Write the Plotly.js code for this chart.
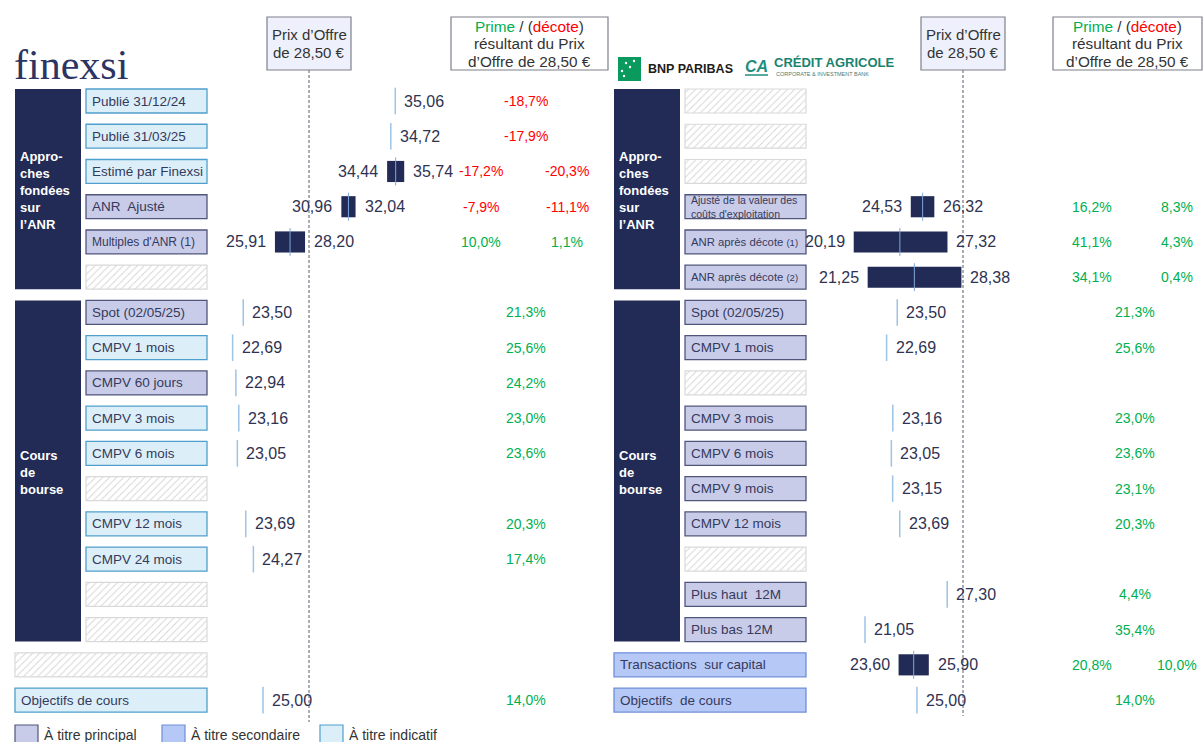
<!DOCTYPE html>
<html><head><meta charset="utf-8">
<script src="https://cdn.plot.ly/plotly-3.0.1.min.js"></script>
<style>html,body{margin:0;padding:0;background:#fff;}#chart{width:1203px;height:742px;}</style>
</head><body><div id="chart"></div>
<script>
// ---------------- DATA ----------------
const OFFER = 28.50;

const leftCategories = ["Publié 31/12/24","Publié 31/03/25","Estimé par Finexsi","ANR  Ajusté","Multiples d'ANR (1)","","Spot (02/05/25)","CMPV 1 mois","CMPV 60 jours","CMPV 3 mois","CMPV 6 mois","","CMPV 12 mois","CMPV 24 mois","","","","Objectifs de cours"];
const leftKinds = ["ind","ind","ind","pri","pri","hatch","pri","ind","pri","ind","ind","hatch","ind","ind","hatch","hatch","hatchWide","indWide"];

const rightCategories = ["","","","Ajusté de la valeur des<br>coûts d'exploitation","ANR après décote <span style='font-size:9.5px'>(1)</span>","ANR après décote <span style='font-size:9.5px'>(2)</span>","Spot (02/05/25)","CMPV 1 mois","","CMPV 3 mois","CMPV 6 mois","CMPV 9 mois","CMPV 12 mois","","Plus haut  12M","Plus bas 12M","Transactions  sur capital","Objectifs  de cours"];
const rightKinds = ["hatch","hatch","hatch","pri","pri","pri","pri","pri","hatch","pri","pri","pri","pri","hatch","pri","pri","secWide","secWide"];

const groupLabels = ["Appro-<br>ches<br>fondées<br>sur<br>l’ANR","Cours<br>de<br>bourse"];
const groupFirstRow = [0, 6];
const groupLastRow = [5, 15];

const leftSingleRows    = [0, 1, 6, 7, 8, 9, 10, 12, 13, 17];
const leftSingleValues  = [35.06, 34.72, 23.50, 22.69, 22.94, 23.16, 23.05, 23.69, 24.27, 25.00];
const leftSinglePremium = [-18.7, -17.9, 21.3, 25.6, 24.2, 23.0, 23.6, 20.3, 17.4, 14.0];
const leftRangeRows     = [2, 3, 4];
const leftRangeLow      = [34.44, 30.96, 25.91];
const leftRangeMid      = [35.09, 31.50, 27.06];
const leftRangeHigh     = [35.74, 32.04, 28.20];
const leftRangePremLow  = [-17.2, -7.9, 10.0];
const leftRangePremHigh = [-20.3, -11.1, 1.1];

const rightSingleRows    = [6, 7, 9, 10, 11, 12, 14, 15, 17];
const rightSingleValues  = [23.50, 22.69, 23.16, 23.05, 23.15, 23.69, 27.30, 21.05, 25.00];
const rightSinglePremium = [21.3, 25.6, 23.0, 23.6, 23.1, 20.3, 4.4, 35.4, 14.0];
const rightRangeRows     = [3, 4, 5, 16];
const rightRangeLow      = [24.53, 20.19, 21.25, 23.60];
const rightRangeMid      = [25.43, 23.70, 24.80, 24.75];
const rightRangeHigh     = [26.32, 27.32, 28.38, 25.90];
const rightRangePremLow  = [16.2, 41.1, 34.1, 20.8];
const rightRangePremHigh = [8.3, 4.3, 0.4, 10.0];

const legendLabels = ["À titre principal","À titre secondaire","À titre indicatif"];
const legendKinds = ["pri","sec","ind"];

const prixHeaderLines = ["Prix d’Offre","de 28,50 €"];
const primeHeaderLines = ["<span style='color:#00B050'>Prime</span> / (<span style='color:#FF0000'>décote</span>)","résultant du Prix","d’Offre de 28,50 €"];

// ---------------- LAYOUT HELPERS ----------------
const W = 1203, H = 742;
const px = v => v / W;
const py = v => 1 - v / H;
const ROW_TOP = 101, ROW_STEP = 35.24;
const PXU = 13.15;              // pixels per euro
const HALF = 0.34;              // half box height in rows
const NAVY = "#222B55";
const TXT = "#2F3352";
const LBL = "#353A5C";
const GREEN = "#00B050", RED = "#FF0000";
const FONT = "Liberation Sans, Arial, sans-serif";
const STY = {
  pri: {fill:"#C9CCE9", line:"#50567A"},
  sec: {fill:"#B6C8F6", line:"#6D8FD8"},
  ind: {fill:"#DCEFF9", line:"#4F9FCC"}
};
const fmtV = v => v.toFixed(2).replace(".", ",");
const fmtP = v => v.toFixed(1).replace(".", ",") + "%";

const panels = [
  {axis:"x", cats:leftCategories, kinds:leftKinds, offerPx:309, domain:[0,0.5],
   boxX0:86, boxX1:207, groupX0:15, groupX1:81, wideX0:15,
   premSingle:526, premLow:481, premHigh:567, primeX0:451, primeX1:608,
   sRows:leftSingleRows, sVals:leftSingleValues, sPrem:leftSinglePremium,
   rRows:leftRangeRows, rLow:leftRangeLow, rMid:leftRangeMid, rHigh:leftRangeHigh,
   rPremLow:leftRangePremLow, rPremHigh:leftRangePremHigh,
   labelSize:{4:12}, lineEnd:722},
  {axis:"x2", cats:rightCategories, kinds:rightKinds, offerPx:963, domain:[0.5,1],
   boxX0:685, boxX1:806, groupX0:614, groupX1:680, wideX0:614,
   premSingle:1135, premLow:1092, premHigh:1177, primeX0:1053, primeX1:1202,
   sRows:rightSingleRows, sVals:rightSingleValues, sPrem:rightSinglePremium,
   rRows:rightRangeRows, rLow:rightRangeLow, rMid:rightRangeMid, rHigh:rightRangeHigh,
   rPremLow:rightRangePremLow, rPremHigh:rightRangePremHigh,
   labelSize:{3:10.5, 4:11.3, 5:11.3}, lineEnd:716}
];

const traces = [], shapes = [], annotations = [];
const hatchY = [], hatchBase = [], hatchW = [];

panels.forEach((p, pi) => {
  // group blocks
  groupLabels.forEach((g, gi) => {
    shapes.push({type:"rect", layer:"below", xref:"paper", yref:"y",
      x0:px(p.groupX0), x1:px(p.groupX1), y0:groupFirstRow[gi]-HALF, y1:groupLastRow[gi]+HALF,
      fillcolor:NAVY, line:{width:0}});
    annotations.push({xref:"paper", yref:"y", x:px(p.groupX0+3), xanchor:"left",
      y:(groupFirstRow[gi]+groupLastRow[gi])/2 + 0.05, yanchor:"middle", align:"left",
      text:"<b>"+g+"</b>", showarrow:false, font:{family:FONT, size:13, color:"#FFFFFF"}});
  });
  // category boxes
  p.cats.forEach((c, i) => {
    const k = p.kinds[i];
    const wide = k.endsWith("Wide");
    const x0 = wide ? p.wideX0 : p.boxX0;
    if (k.startsWith("hatch")) {
      hatchY.push(i); hatchBase.push(x0); hatchW.push(p.boxX1 - x0);
      return;
    }
    const st = STY[k.replace("Wide","")];
    shapes.push({type:"rect", layer:"below", xref:"paper", yref:"y",
      x0:px(x0), x1:px(p.boxX1), y0:i-HALF, y1:i+HALF,
      fillcolor:st.fill, line:{color:st.line, width:1.3}});
    annotations.push({xref:"paper", yref:"y", x:px(x0+4), xanchor:"left", y:i, yanchor:"middle",
      align:"left", text:c, showarrow:false,
      font:{family:FONT, size:(p.labelSize[i]||13.5), color:LBL}});
  });
  // range bars
  traces.push({type:"bar", orientation:"h", xaxis:p.axis, yaxis:"y",
    y:p.rRows, base:p.rLow, x:p.rHigh.map((h,j)=>h-p.rLow[j]), width:0.6,
    marker:{color:NAVY, line:{width:0}}, hoverinfo:"skip"});
  traces.push({type:"scatter", mode:"markers", xaxis:p.axis, yaxis:"y",
    x:p.rMid, y:p.rRows, marker:{symbol:"line-ns-open", size:20, color:"#7FA8DA", line:{color:"#7FA8DA", width:1}},
    hoverinfo:"skip", cliponaxis:false});
  // single ticks
  traces.push({type:"scatter", mode:"markers", xaxis:p.axis, yaxis:"y",
    x:p.sVals, y:p.sRows, marker:{symbol:"line-ns-open", size:19, color:"#9DC3E6", line:{color:"#9DC3E6", width:1.5}},
    hoverinfo:"skip", cliponaxis:false});
  // value labels
  p.sRows.forEach((r, j) => {
    annotations.push({xref:p.axis, yref:"y", x:p.sVals[j], y:r, xanchor:"left", xshift:7,
      text:fmtV(p.sVals[j]), showarrow:false, font:{family:FONT, size:16, color:TXT}});
    annotations.push({xref:"paper", yref:"y", x:px(p.premSingle), y:r, xanchor:"center",
      text:fmtP(p.sPrem[j]), showarrow:false,
      font:{family:FONT, size:14, color:p.sPrem[j] < 0 ? RED : GREEN}});
  });
  p.rRows.forEach((r, j) => {
    annotations.push({xref:p.axis, yref:"y", x:p.rLow[j], y:r, xanchor:"right", xshift:-7,
      text:fmtV(p.rLow[j]), showarrow:false, font:{family:FONT, size:16, color:TXT}});
    annotations.push({xref:p.axis, yref:"y", x:p.rHigh[j], y:r, xanchor:"left", xshift:7,
      text:fmtV(p.rHigh[j]), showarrow:false, font:{family:FONT, size:16, color:TXT}});
    annotations.push({xref:"paper", yref:"y", x:px(p.premLow), y:r, xanchor:"center",
      text:fmtP(p.rPremLow[j]), showarrow:false,
      font:{family:FONT, size:14, color:p.rPremLow[j] < 0 ? RED : GREEN}});
    annotations.push({xref:"paper", yref:"y", x:px(p.premHigh), y:r, xanchor:"center",
      text:fmtP(p.rPremHigh[j]), showarrow:false,
      font:{family:FONT, size:14, color:p.rPremHigh[j] < 0 ? RED : GREEN}});
  });
  // offer line
  shapes.push({type:"line", xref:p.axis, yref:"paper", x0:OFFER, x1:OFFER,
    y0:py(70), y1:py(p.lineEnd), line:{color:"#5A5A6A", width:1, dash:"3px,2px"}});
  // header boxes
  shapes.push({type:"rect", xref:"paper", yref:"paper", x0:px(p.offerPx-42), x1:px(p.offerPx+42), y0:py(70), y1:py(17),
    fillcolor:"#EEF1FB", line:{color:"#7F7F8C", width:1.2}});
  prixHeaderLines.forEach((t, li) => annotations.push({xref:"paper", yref:"paper", x:px(p.offerPx), y:py(35 + 17*li),
    xanchor:"center", yanchor:"middle", text:t, showarrow:false, font:{family:FONT, size:15, color:"#333"}}));
  shapes.push({type:"rect", xref:"paper", yref:"paper", x0:px(p.primeX0), x1:px(p.primeX1), y0:py(70), y1:py(17),
    fillcolor:"#FFFFFF", line:{color:"#7F7F8C", width:1.2}});
  primeHeaderLines.forEach((t, li) => annotations.push({xref:"paper", yref:"paper", x:px((p.primeX0+p.primeX1)/2),
    y:py(26 + 17.5*li), xanchor:"center", yanchor:"middle", text:t, showarrow:false,
    font:{family:FONT, size:15.3, color:"#333"}}));
});

// hatched placeholder boxes (decoration, pixel axis)
traces.push({type:"bar", orientation:"h", xaxis:"x3", yaxis:"y", y:hatchY, base:hatchBase, x:hatchW, width:2*HALF,
  marker:{color:"#FFFFFF", line:{color:"#D9D9D9", width:1.2},
          pattern:{shape:"/", fgcolor:"#D4D4D4", size:5, solidity:0.18}}, hoverinfo:"skip"});

// logos
annotations.push({xref:"paper", yref:"paper", x:px(12), y:py(65), xanchor:"left", yanchor:"middle",
  text:"finexsi", showarrow:false, font:{family:"Liberation Serif, DejaVu Serif, serif", size:42, color:"#2B3463"}});
shapes.push({type:"rect", xref:"paper", yref:"paper", x0:px(618), x1:px(641), y0:py(81), y1:py(57),
  fillcolor:"#0B9A5E", line:{width:0}});
[[626,63],[634,61],[622,71],[630,67],[624,76]].forEach(([a,b]) => shapes.push({type:"circle", xref:"paper", yref:"paper",
  x0:px(a-1.2), x1:px(a+1.2), y0:py(b+1.2), y1:py(b-1.2), fillcolor:"#FFFFFF", line:{width:0}}));
annotations.push({xref:"paper", yref:"paper", x:px(646), y:py(69), xanchor:"left", yanchor:"middle",
  text:"<b>BNP PARIBAS</b>", showarrow:false, font:{family:FONT, size:12.5, color:"#1D1D1B"}});
annotations.push({xref:"paper", yref:"paper", x:px(743), y:py(66), xanchor:"left", yanchor:"middle",
  text:"<b><i>CA</i></b>", showarrow:false, font:{family:FONT, size:16, color:"#1F8E7E"}});
shapes.push({type:"line", xref:"paper", yref:"paper", x0:px(745), x1:px(768), y0:py(75), y1:py(75), line:{color:"#1F8E7E", width:1.5}});
annotations.push({xref:"paper", yref:"paper", x:px(772), y:py(63), xanchor:"left", yanchor:"middle",
  text:"<b>CRÉDIT AGRICOLE</b>", showarrow:false, font:{family:FONT, size:13, color:"#18836F"}});
annotations.push({xref:"paper", yref:"paper", x:px(774), y:py(74), xanchor:"left", yanchor:"middle",
  text:"CORPORATE & INVESTMENT BANK", showarrow:false, font:{family:FONT, size:5.5, color:"#4C7D73"}});

// legend
[15, 162, 320].forEach((x0, i) => {
  const st = STY[legendKinds[i]];
  shapes.push({type:"rect", xref:"paper", yref:"paper", x0:px(x0), x1:px(x0+23), y0:py(746), y1:py(725),
    fillcolor:st.fill, line:{color:st.line, width:1.2}});
  annotations.push({xref:"paper", yref:"paper", x:px(x0+27), y:py(735), xanchor:"left", yanchor:"middle",
    text:legendLabels[i], showarrow:false, font:{family:FONT, size:14, color:"#333"}});
});

const axisBase = {visible:false, showgrid:false, zeroline:false, fixedrange:true};
const rangeFor = p => [OFFER - (p.offerPx - p.domain[0]*W)/PXU, OFFER + (p.domain[1]*W - p.offerPx)/PXU];
const layout = {
  width:W, height:H, margin:{l:0, r:0, t:0, b:0},
  paper_bgcolor:"#FFFFFF", plot_bgcolor:"rgba(0,0,0,0)",
  showlegend:false, barmode:"overlay",
  xaxis:Object.assign({}, axisBase, {domain:panels[0].domain, range:rangeFor(panels[0]), anchor:"y"}),
  xaxis2:Object.assign({}, axisBase, {domain:panels[1].domain, range:rangeFor(panels[1]), anchor:"y"}),
  xaxis3:Object.assign({}, axisBase, {domain:[0,1], range:[0,W], anchor:"y"}),
  yaxis:Object.assign({}, axisBase, {domain:[0,1], autorange:false,
    range:[(H-ROW_TOP)/ROW_STEP, -ROW_TOP/ROW_STEP]}),
  shapes:shapes, annotations:annotations
};
Plotly.newPlot("chart", traces, layout, {staticPlot:true, displayModeBar:false});
</script>
</body></html>
